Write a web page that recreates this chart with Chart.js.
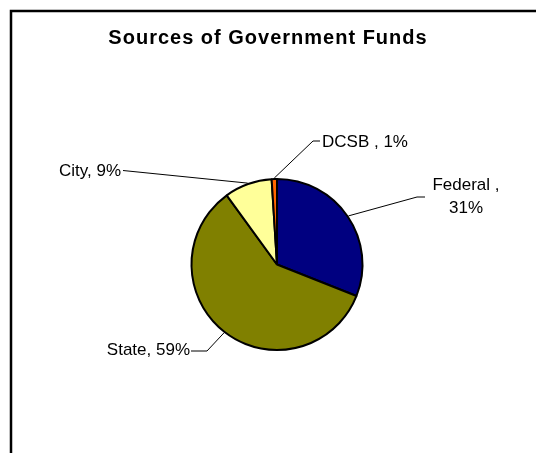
<!DOCTYPE html>
<html>
<head>
<meta charset="utf-8">
<title>Sources of Government Funds</title>
<script src="https://cdn.jsdelivr.net/npm/chart.js@4.4.0/dist/chart.umd.min.js"></script>
<style>
    html, body { margin: 0; padding: 0; background: #fff; overflow: hidden; }
    #fundsChart { display: block; }
</style>
</head>
<body>
<canvas id="fundsChart" width="536" height="453"></canvas>
<script>
const chartTitle = "Sources of Government Funds";
const categories = ["Federal", "State", "City", "DCSB"];
const shares = [31, 59, 9, 1];
const labelTexts = [["Federal ,", "31%"], ["State, 59%"], ["City, 9%"], ["DCSB , 1%"]];
const sliceColors = ["#000080", "#808000", "#FFFF99", "#FF6600"];

// where each label sits: text anchor, alignment, and the elbow of its leader line
const labelLayout = [
    { x: 466, y: 190, align: "center", elbow: [417, 197], end: [425, 197] },
    { x: 190, y: 355, align: "right", elbow: [207, 351], end: [191, 351] },
    { x: 121, y: 175.5, align: "right", elbow: [123, 170.5], end: [123, 170.5] },
    { x: 322, y: 147, align: "left", elbow: [313, 141], end: [320, 141] }
];

const labelFont = "17px 'Liberation Sans', Arial, sans-serif";

const decorPlugin = {
    id: "decor",
    beforeDraw(chart) {
        const ctx = chart.ctx;
        ctx.save();
        ctx.fillStyle = "#fff";
        ctx.fillRect(0, 0, chart.width, chart.height);
        ctx.strokeStyle = "#000";
        ctx.lineWidth = 2.5;
        ctx.strokeRect(11, 11, 700, 700);

        ctx.fillStyle = "#000";
        ctx.font = "bold 20px 'Liberation Sans', Arial, sans-serif";
        ctx.letterSpacing = "1px";
        ctx.textAlign = "center";
        ctx.textBaseline = "alphabetic";
        ctx.fillText(chartTitle, 268, 44);
        ctx.restore();
    },
    afterDraw(chart) {
        const ctx = chart.ctx;
        const arcs = chart.getDatasetMeta(0).data;
        ctx.save();
        ctx.strokeStyle = "#000";
        ctx.lineWidth = 1;
        arcs.forEach((arc, i) => {
            const lay = labelLayout[i];
            const mid = (arc.startAngle + arc.endAngle) / 2;
            const r = arc.outerRadius + 1;
            const sx = arc.x + Math.cos(mid) * r;
            const sy = arc.y + Math.sin(mid) * r;
            ctx.beginPath();
            ctx.moveTo(sx, sy);
            ctx.lineTo(lay.elbow[0], lay.elbow[1]);
            ctx.lineTo(lay.end[0], lay.end[1]);
            ctx.stroke();

            ctx.fillStyle = "#000";
            ctx.font = labelFont;
            ctx.textAlign = lay.align;
            ctx.textBaseline = "alphabetic";
            labelTexts[i].forEach((line, j) => {
                ctx.fillText(line, lay.x, lay.y + j * 23.3);
            });
        });
        ctx.restore();
    }
};

new Chart(document.getElementById("fundsChart"), {
    type: "pie",
    data: {
        labels: categories,
        datasets: [{
            data: shares,
            backgroundColor: sliceColors,
            borderColor: "#000",
            borderWidth: 2
        }]
    },
    options: {
        responsive: false,
        animation: false,
        devicePixelRatio: 1,
        layout: {
            padding: { left: 190.5, right: 172.5, top: 178, bottom: 102 }
        },
        plugins: {
            legend: { display: false },
            tooltip: { enabled: false },
            title: { display: false }
        }
    },
    plugins: [decorPlugin]
});
</script>
</body>
</html>
